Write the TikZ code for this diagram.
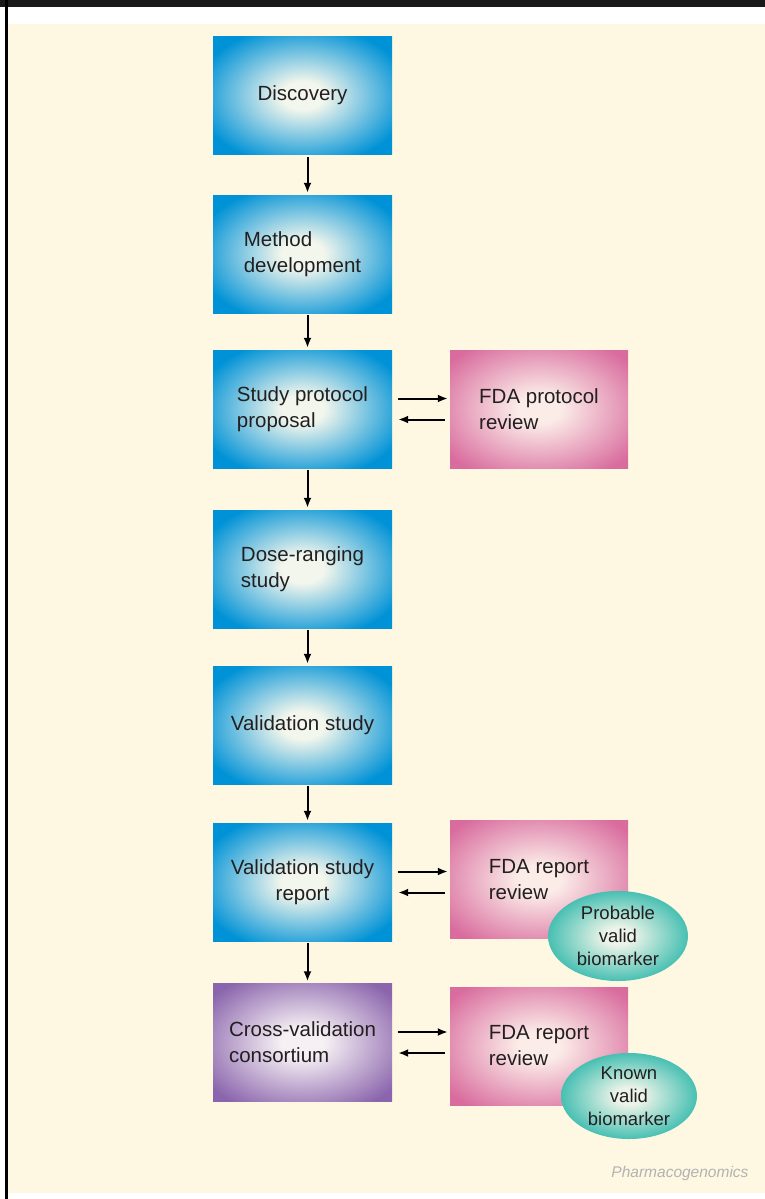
\documentclass[tikz,border=0pt]{standalone}
\usepackage{fontspec}
\setmainfont{Liberation Sans}
\usetikzlibrary{arrows.meta,shapes.geometric}

\definecolor{cream}{RGB}{254,248,227}
\definecolor{ink}{RGB}{35,31,32}
\definecolor{blueinner}{RGB}{242,246,236}
\definecolor{blueouter}{RGB}{0,146,214}
\definecolor{pinkinner}{RGB}{251,236,232}
\definecolor{pinkouter}{RGB}{217,108,158}
\definecolor{purpleinner}{RGB}{246,240,244}
\definecolor{purpleouter}{RGB}{138,100,172}
\definecolor{tealinner}{RGB}{236,243,232}
\definecolor{tealouter}{RGB}{14,174,160}

\pgfdeclareradialshading{blueglow}{\pgfpoint{0bp}{0bp}}{color(0bp)=(blueinner); color(6bp)=(blueinner); color(30bp)=(blueouter); color(75bp)=(blueouter)}
\pgfdeclareradialshading{pinkglow}{\pgfpoint{0bp}{0bp}}{color(0bp)=(pinkinner); color(6bp)=(pinkinner); color(32bp)=(pinkouter); color(75bp)=(pinkouter)}
\pgfdeclareradialshading{purpleglow}{\pgfpoint{0bp}{0bp}}{color(0bp)=(purpleinner); color(6bp)=(purpleinner); color(32bp)=(purpleouter); color(75bp)=(purpleouter)}
\pgfdeclareradialshading{tealglow}{\pgfpoint{0bp}{0bp}}{color(0bp)=(tealinner); color(5bp)=(tealinner); color(32bp)=(tealouter); color(75bp)=(tealouter)}

\newcommand{\boxfont}{\fontsize{20.5}{26}\selectfont}
\newcommand{\ovalfont}{\fontsize{18.5}{23}\selectfont}
\newcommand{\creditfont}{\fontsize{15.5}{18}\selectfont}

\tikzstyle{stage}=[rectangle,minimum width=179pt,minimum height=118pt,inner sep=0pt,shade,shading=blueglow,font=\boxfont,text=ink]
\tikzstyle{review}=[stage,minimum width=178pt,shading=pinkglow,align=left]
\tikzstyle{verdict}=[ellipse,minimum width=140pt,minimum height=90pt,inner sep=0pt,shade,shading=tealglow,font=\ovalfont,text=ink,align=center]
\tikzstyle{link} = [draw,line width=2pt,-{Latex[length=10pt,width=8pt]},shorten <=2pt,shorten >=2pt]

\begin{document}
\begin{tikzpicture}[x=1pt,y=-1pt]
    \useasboundingbox (0,0) rectangle (765,1199);
    % page frame
    \fill[white] (0,0) rectangle (765,1199);
    \fill[cream] (8,24) rectangle (765,1193);
    \fill[black!90] (0,0) rectangle (765,7);
    \fill[black] (5,0) rectangle (8,1199);

    \foreach \pos/ \name/ \al/ \txt in {{(302.5,95.5)/disc/center/Discovery},{(302.5,254)/meth/left/{Method\\development}},{(302.5,409)/prop/left/{Study protocol\\proposal}},{(302.5,569)/dose/left/{Dose-ranging\\study}},{(302.5,725)/valid/center/Validation study},{(302.5,882)/report/center/{Validation study\\report}}}
        \node[stage,align=\al] (\name) at \pos {\txt};

    \node[stage,shading=purpleglow,align=left] (cross) at (302.5,1042.5) {Cross-validation\\consortium};

    \foreach \pos/ \name/ \txt in {{(539,409)/fdaprot/{FDA protocol\\review}},{(539,879.5)/fdarep/{FDA report\\review}},{(539,1046)/fdarep2/{FDA report\\review}}}
        \node[review] (\name) at \pos {\txt};

    \node[verdict] (probable) at (618,936) {Probable\\valid\\biomarker};
    \node[verdict,minimum width=136pt,minimum height=86pt] (known) at (629,1096) {Known\\valid\\biomarker};

    % flow down the stages
    \foreach \source/ \dest in {disc/meth,meth/prop,prop/dose,dose/valid,valid/report,report/cross}
        \path[link] ([xshift=5pt]\source.south) -- ([xshift=5pt]\dest.north);

    % to and from the FDA
    \foreach \source/ \dest in {prop/fdaprot,report/fdarep,cross/fdarep2} {
        \path[link,shorten <=6pt] ([yshift=10.5pt]\source.east) -- ([yshift=10.5pt]\source.east -| \dest.west);
        \path[link,shorten <=5pt,shorten >=6pt] ([yshift=-10.5pt]\source.east -| \dest.west) -- ([yshift=-10.5pt]\source.east);
    }

    \node[anchor=base east,text=black!30,font=\creditfont\itshape] (credit) at (752,1177) {Pharmacogenomics};
\end{tikzpicture}
\end{document}
